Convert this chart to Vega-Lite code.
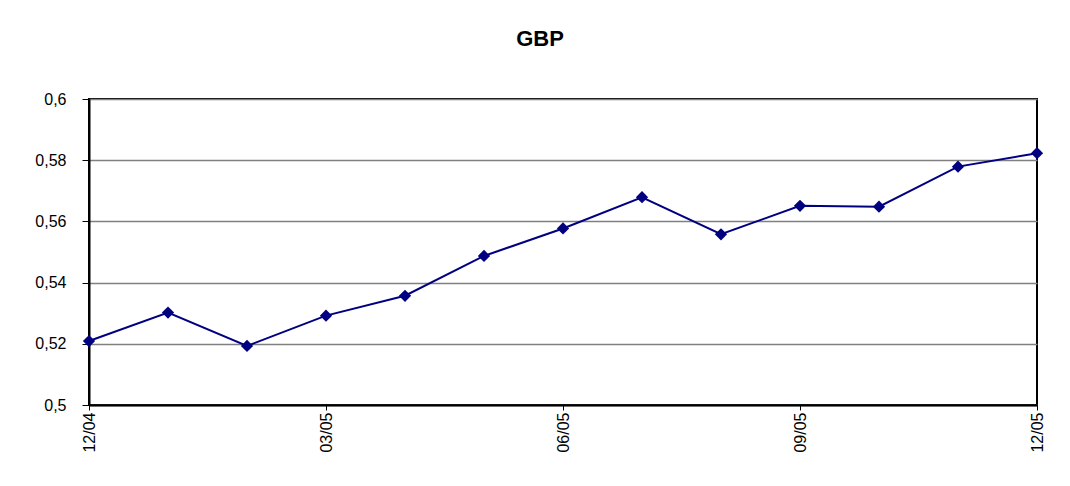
{
  "$schema": "https://vega.github.io/schema/vega-lite/v6.json",
  "width": 948,
  "height": 306,
  "autosize": {"type": "none"},
  "padding": {"left": 89, "top": 99, "right": 33, "bottom": 81},
  "background": "white",
  "title": {
    "text": "GBP",
    "font": "Liberation Sans",
    "fontSize": 22,
    "fontWeight": "bold",
    "color": "#000000",
    "anchor": "middle",
    "dx": -23,
    "offset": 40
  },
  "config": {
    "locale": {
      "number": {"decimal": ",", "thousands": ".", "grouping": [3], "currency": ["", " €"]}
    },
    "view": {"stroke": "#000000", "strokeWidth": 2},
    "axis": {
      "labelFont": "Liberation Sans",
      "labelFontSize": 16,
      "labelColor": "#000000",
      "domainColor": "#000000",
      "domainWidth": 2,
      "tickColor": "#000000",
      "tickWidth": 1,
      "titleFont": "Liberation Sans"
    }
  },
  "data": {
    "values": [
      {"month": "12/04", "rate": 0.5209},
      {"month": "01/05", "rate": 0.5302},
      {"month": "02/05", "rate": 0.5193},
      {"month": "03/05", "rate": 0.5292},
      {"month": "04/05", "rate": 0.5357},
      {"month": "05/05", "rate": 0.5487},
      {"month": "06/05", "rate": 0.5577},
      {"month": "07/05", "rate": 0.5679},
      {"month": "08/05", "rate": 0.5558},
      {"month": "09/05", "rate": 0.5651},
      {"month": "10/05", "rate": 0.5648},
      {"month": "11/05", "rate": 0.5779},
      {"month": "12/05", "rate": 0.5823}
    ]
  },
  "encoding": {
    "x": {
      "field": "month",
      "type": "ordinal",
      "sort": null,
      "scale": {"type": "point", "padding": 0},
      "axis": {
        "title": null,
        "values": ["12/04", "03/05", "06/05", "09/05", "12/05"],
        "labelAngle": 270,
        "labelAlign": "right",
        "labelBaseline": "middle",
        "labelPadding": 2,
        "tickSize": 5,
        "grid": false
      }
    },
    "y": {
      "field": "rate",
      "type": "quantitative",
      "scale": {"domain": [0.5, 0.6], "zero": false, "nice": false},
      "axis": {
        "title": null,
        "values": [0.5, 0.52, 0.54, 0.56, 0.58, 0.6],
        "format": ".2~f",
        "tickSize": 7,
        "labelPadding": 16,
        "grid": true,
        "gridColor": "#808080",
        "gridWidth": 1.5
      }
    }
  },
  "layer": [
    {
      "mark": {"type": "line", "color": "#000080", "strokeWidth": 2}
    },
    {
      "mark": {"type": "point", "shape": "diamond", "filled": true, "size": 150, "color": "#000080", "opacity": 1}
    }
  ]
}
